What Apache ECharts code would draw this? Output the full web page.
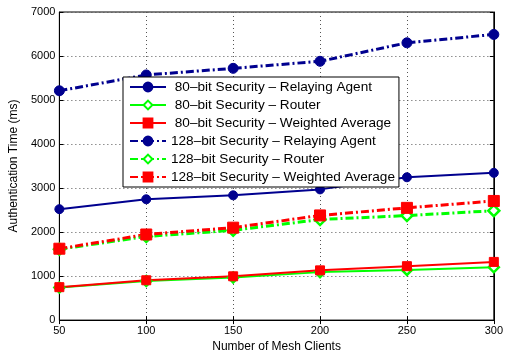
<!DOCTYPE html>
<html><head><meta charset="utf-8">
<script src="https://cdn.jsdelivr.net/npm/echarts@6/dist/echarts.min.js"></script>
<style>html,body{margin:0;padding:0;background:#fff}#c{width:506px;height:358px}</style>
</head><body><div id="c"></div>
<script>
var clients = [50, 100, 150, 200, 250, 300];
var yTicks = [0, 1000, 2000, 3000, 4000, 5000, 6000, 7000];
var ra80 = [2520, 2745, 2835, 2970, 3245, 3345];
var router80 = [740, 890, 970, 1090, 1140, 1200];
var wa80 = [748, 905, 995, 1130, 1225, 1322];
var ra128 = [5210, 5570, 5720, 5880, 6300, 6490];
var router128 = [1610, 1900, 2040, 2285, 2375, 2485];
var wa128 = [1622, 1945, 2100, 2378, 2550, 2707];
var names = [
  ' 80\u2013bit Security \u2013 Relaying Agent',
  ' 80\u2013bit Security \u2013 Router',
  ' 80\u2013bit Security \u2013 Weighted Average',
  '128\u2013bit Security \u2013 Relaying Agent',
  '128\u2013bit Security \u2013 Router',
  '128\u2013bit Security \u2013 Weighted Average'
];
var blue = '#00008f', green = '#00ff00', red = '#ff0000';
var dashDot = [8, 3, 2, 3];
function pairs(arr){ return clients.map(function(c,i){ return [c, arr[i]]; }); }
function mk(name, data, color, symbol, size, dashed, hollow){
  return {
    name: name, type: 'line', data: pairs(data), symbol: symbol, symbolSize: size,
    showSymbol: true, z: dashed ? 3 : 2,
    lineStyle: {color: color, width: dashed ? 3 : 2, type: dashed ? dashDot : 'solid'},
    itemStyle: hollow ? {color: '#ffffff', borderColor: color, borderWidth: 2.5} : {color: color, borderColor: color, borderWidth: 1},
    emphasis: {disabled: true}, animation: false
  };
}
var chart = echarts.init(document.getElementById('c'), null, {renderer: 'canvas'});
var axisFont = {fontFamily: 'Arial, Liberation Sans, sans-serif', fontSize: 11, color: '#000'};
chart.setOption({
  animation: false,
  grid: {left: 57, right: 10, top: 12, bottom: 34, show: true, borderColor: '#000', borderWidth: 1},
  xAxis: [{
    type: 'value', min: 50, max: 300, interval: 50,
    name: 'Number of Mesh Clients', nameLocation: 'middle', nameGap: 18,
    nameTextStyle: {fontFamily: 'Arial, Liberation Sans, sans-serif', fontSize: 12, color: '#000'},
    axisLine: {show: true, lineStyle: {color: '#000', width: 1}},
    axisTick: {show: true, inside: true, length: 4, lineStyle: {color: '#000'}},
    axisLabel: Object.assign({margin: 5}, axisFont),
    splitLine: {show: true, lineStyle: {color: '#555', type: [1, 3], width: 1}}
  }, {
    type: 'value', min: 50, max: 300, interval: 50, position: 'top',
    axisLine: {show: true, lineStyle: {color: '#000'}},
    axisTick: {show: true, inside: true, length: 4, lineStyle: {color: '#000'}},
    axisLabel: {show: false}, splitLine: {show: false}
  }],
  yAxis: [{
    type: 'value', min: 0, max: 7000, interval: 1000,
    name: 'Authentication Time (ms)', nameLocation: 'middle', nameGap: 38,
    nameTextStyle: {fontFamily: 'Arial, Liberation Sans, sans-serif', fontSize: 12, color: '#000'},
    axisLine: {show: true, lineStyle: {color: '#000', width: 1}},
    axisTick: {show: true, inside: true, length: 4, lineStyle: {color: '#000'}},
    axisLabel: Object.assign({margin: 4, formatter: function(v){ return yTicks.indexOf(v) >= 0 ? String(v) : ''; }}, axisFont),
    splitLine: {show: true, lineStyle: {color: '#555', type: [1, 3], width: 1}}
  }, {
    type: 'value', min: 0, max: 7000, interval: 1000, position: 'right',
    axisLine: {show: true, lineStyle: {color: '#000'}},
    axisTick: {show: true, inside: true, length: 4, lineStyle: {color: '#000'}},
    axisLabel: {show: false}, splitLine: {show: false}
  }],
  legend: {
    orient: 'vertical', left: 123, top: 77,
    backgroundColor: '#fff', borderColor: '#000', borderWidth: 1,
    padding: [3, 4, 3, 6], itemGap: 4, itemWidth: 36, itemHeight: 11,
    textStyle: {fontFamily: 'Arial, Liberation Sans, sans-serif', fontSize: 13.6, color: '#000'},
    data: names, selectedMode: false, z: 10
  },
  series: [
    mk(names[0], ra80, blue, 'circle', 9, false, false),
    mk(names[1], router80, green, 'diamond', 10, false, true),
    mk(names[2], wa80, red, 'rect', 9, false, false),
    mk(names[3], ra128, blue, 'circle', 10, true, false),
    mk(names[4], router128, green, 'diamond', 11, true, true),
    mk(names[5], wa128, red, 'rect', 11, true, false)
  ]
});
</script></body></html>
